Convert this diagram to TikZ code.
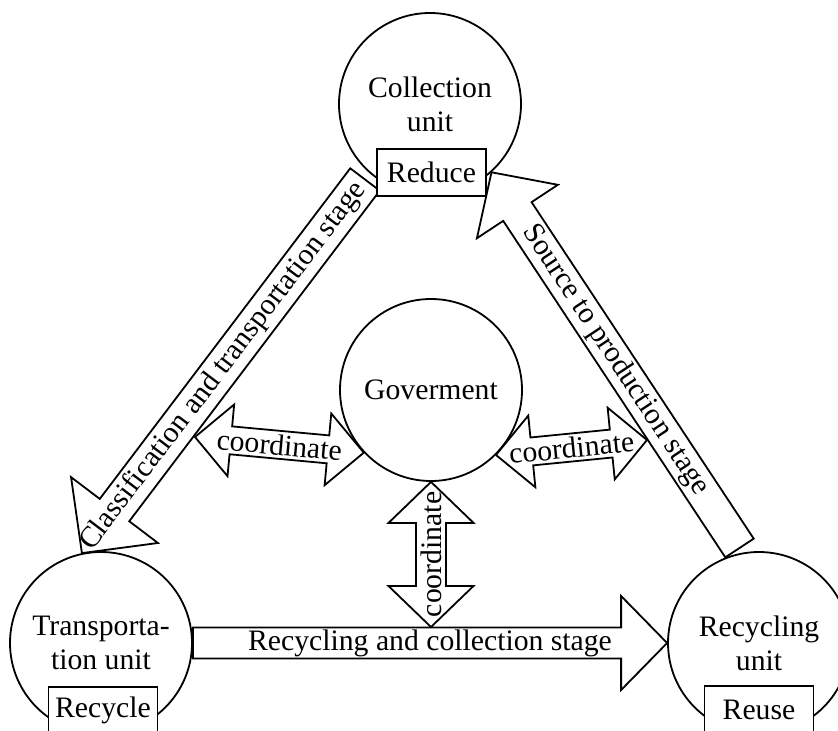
\documentclass[tikz,border=0pt]{standalone}
\usepackage{fontspec}
\setmainfont{Liberation Serif}
\usetikzlibrary{calc}

\tikzset{
  unit/.style={circle, draw, line width=0.9pt, minimum size=91pt, inner sep=0pt, align=center},
  rulebox/.style={rectangle, draw, fill=white, line width=0.9pt,
    minimum width=54.5pt, minimum height=23.5pt, inner sep=0pt},
  fatarrow/.style={draw, fill=white, line width=0.9pt, line join=miter},
  arrowlabel/.style={inner sep=0pt},
}

% Block arrow from #1 to #2: shaft half width #3, head half width #4,
% head length #5, text #6 written along the shaft.
\newcommand{\stagearrow}[6]{%
  \coordinate (hb) at ($(#2)!#5!(#1)$);
  \draw[fatarrow] ($(#1)!#3!90:(#2)$) -- ($(hb)!#3!90:(#2)$) -- ($(hb)!#4!90:(#2)$) -- (#2)
    -- ($(hb)!#4!-90:(#2)$) -- ($(hb)!#3!-90:(#2)$) -- ($(#1)!#3!-90:(#2)$) -- cycle;
  \path (#1) -- (#2) node[midway, sloped, arrowlabel] {#6};
}

% Two-headed block arrow between #2 and #3 (label options #1):
% shaft half width #4, head half width #5, head length #6, text #7.
\newcommand{\coordarrow}[7]{%
  \coordinate (ha) at ($(#2)!#6!(#3)$);
  \coordinate (hb) at ($(#3)!#6!(#2)$);
  \draw[fatarrow] (#2) -- ($(ha)!#5!90:(#3)$) -- ($(ha)!#4!90:(#3)$)
    -- ($(hb)!#4!90:(#3)$) -- ($(hb)!#5!90:(#3)$) -- (#3)
    -- ($(hb)!#5!-90:(#3)$) -- ($(hb)!#4!-90:(#3)$)
    -- ($(ha)!#4!-90:(#3)$) -- ($(ha)!#5!-90:(#3)$) -- cycle;
  \path (#2) -- (#3) node[midway, #1, arrowlabel] {#7};
}

\begin{document}
\begin{tikzpicture}[x=0.5pt, y=-0.5pt, font=\fontsize{14.85}{17}\selectfont]
\useasboundingbox (0,0) rectangle (838,731);
\clip (0,0) rectangle (838,731);

% units
\node[unit] (coll)  at (430,104) {Collection\\unit};
\node[unit] (gov)   at (431,390) {Goverment};
\node[unit] (trans) at (101,643) {Transporta-\\tion unit};
\node[unit] (recy)  at (759,643) {Recycling\\unit};

% free ends of the block arrows
\coordinate (cls-start) at (365,179.5);
\coordinate (src-start) at (739.5,548);
\coordinate (lc-end) at (195,437);
\coordinate (rc-end) at (647,440);
\coordinate (vc-end) at (431,627);

% stages
\stagearrow{cls-start}{trans.102}{9.25pt}{27.25pt}{27pt}{Classification and transportation stage}
\stagearrow{src-start}{coll.-48}{8.5pt}{24.25pt}{23.5pt}{Source to production stage}
\stagearrow{trans.east}{recy.west}{7.75pt}{23.5pt}{23pt}{Recycling and collection stage}

% coordination by the government
\coordarrow{sloped}{lc-end}{gov.223}{7pt}{18pt}{18pt}{coordinate}
\coordarrow{sloped}{gov.-45}{rc-end}{7pt}{18pt}{18pt}{coordinate}
\coordarrow{rotate=90}{vc-end}{gov.south}{7.5pt}{21.25pt}{20.5pt}{coordinate}

% principles attached to each unit
\node[rulebox] (reduce)  at (431.5,172.5) {Reduce};
\node[rulebox] (recycle) at (103,710.5) {Recycle};
\node[rulebox] (reuse)   at (759,709.5) {Reuse};
\end{tikzpicture}
\end{document}
